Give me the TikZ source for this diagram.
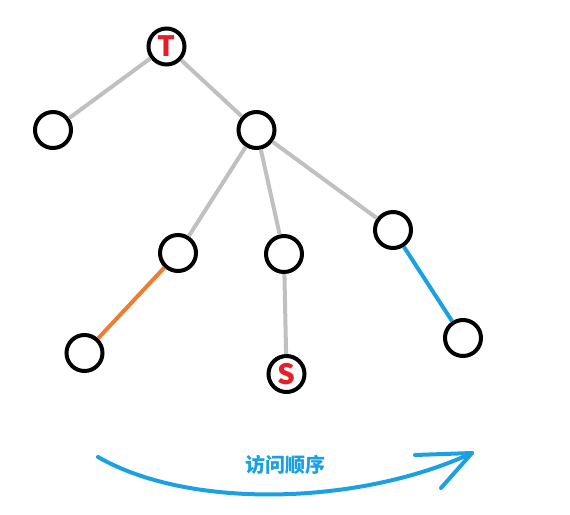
\documentclass[tikz,border=0pt]{standalone}
\usepackage{fontspec}
\newfontfamily\cjk{Noto Sans CJK SC}
\definecolor{edgegray}{RGB}{192,192,192}
\definecolor{orangeedge}{RGB}{237,125,49}
\definecolor{blueedge}{RGB}{27,161,226}
\definecolor{labelred}{RGB}{230,30,40}
\begin{document}
\begin{tikzpicture}[x=1pt,y=-1pt,
  vert/.style={circle,draw=black,line width=4pt,minimum size=36pt,inner sep=0pt,fill=white},
  lab/.style={text=labelred,font=\cjk\bfseries\fontsize{28}{28}\selectfont},
  edge/.style={draw=edgegray,line width=4pt},
  oedge/.style={draw=orangeedge,line width=4pt},
  bedge/.style={draw=blueedge,line width=4pt},
  flow/.style={draw=blueedge,line width=4pt,line cap=round,line join=round}]
\useasboundingbox (0,0) rectangle (570,514);
\node[vert,lab] (t) at (166.5,46.5) {T};
\node[vert] (a) at (53,130) {};
\node[vert] (b) at (256.5,130) {};
\node[vert] (c) at (178,253) {};
\node[vert] (d) at (284,254) {};
\node[vert] (e) at (393,230) {};
\node[vert] (f) at (84.5,353) {};
\node[vert,lab] (s) at (286.5,374) {S};
\node[vert] (g) at (463,338) {};
\draw[edge] (t) -- (a);
\draw[edge] (t) -- (b);
\draw[edge] (b) -- (c);
\draw[edge] (b) -- (d);
\draw[edge] (b) -- (e);
\draw[edge] (d) -- (s);
\draw[oedge] (c) -- (f);
\draw[bedge] (e) -- (g);
\coordinate (p0) at (98,457);
\coordinate (p1) at (472,453);
\coordinate (h1) at (415,455);
\coordinate (h2) at (441,488);
\draw[flow] (p0) .. controls (190,510) and (360,505) .. (p1);
\draw[flow] (h1) -- (p1) -- (h2);
\node[text=blueedge,font=\cjk\bfseries\fontsize{20}{20}\selectfont] (lbl) at (285,465) {访问顺序};
\end{tikzpicture}
\end{document}
